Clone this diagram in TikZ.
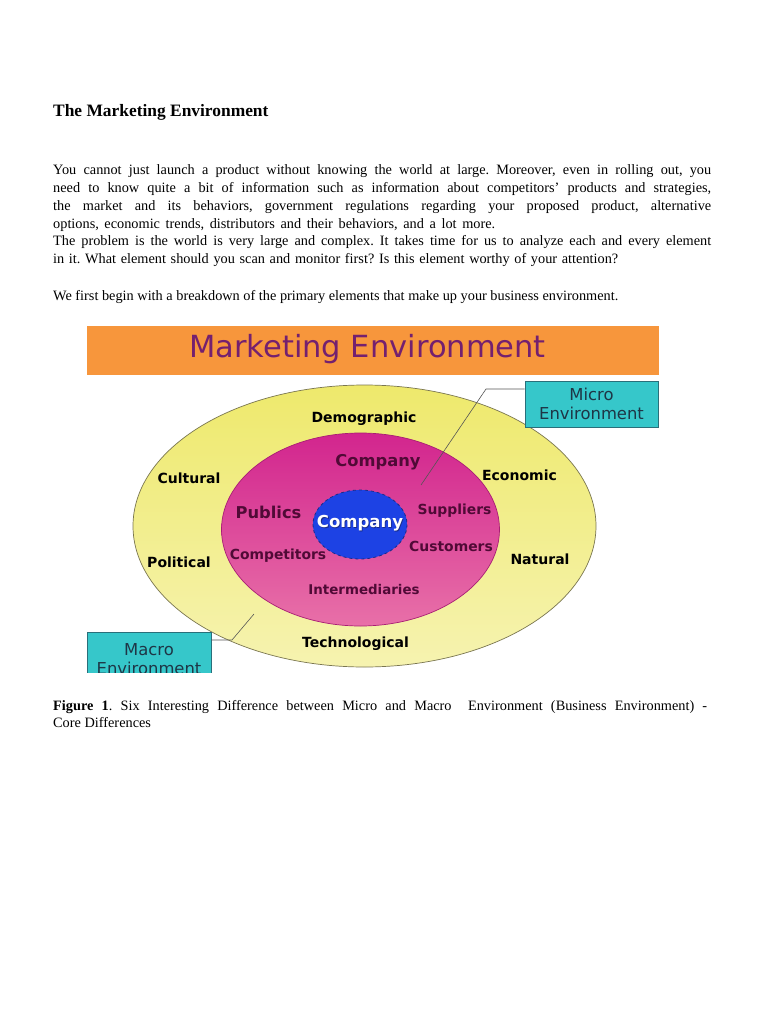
\documentclass[tikz,border=0pt]{standalone}
\usepackage{fontspec}
\setmainfont{Liberation Serif}
\newfontfamily\dia{DejaVu Sans}
\definecolor{bannerorange}{HTML}{F7963C}
\definecolor{bannertext}{HTML}{74206F}
\definecolor{yeltop}{HTML}{EEE96C}
\definecolor{yelbot}{HTML}{F6F3B0}
\definecolor{yelline}{HTML}{7A7650}
\definecolor{magtop}{HTML}{D2258E}
\definecolor{magbot}{HTML}{E870A8}
\definecolor{magline}{HTML}{A81E74}
\definecolor{coreblue}{HTML}{1D42E4}
\definecolor{coreline}{HTML}{1A2C8A}
\definecolor{tealbox}{HTML}{36C7CA}
\definecolor{tealline}{HTML}{2A6F7A}
\definecolor{boxtext}{HTML}{1E3646}
\definecolor{innertext}{HTML}{500A36}
\definecolor{leader}{HTML}{555555}
\begin{document}
\frenchspacing
\begin{tikzpicture}[x=1pt,y=-1pt,
  bodyline/.style={anchor=base west, inner sep=0pt, font=\fontsize{14.3}{16}\selectfont},
  outerlabel/.style={inner sep=0pt, font=\dia\bfseries\fontsize{14}{16}\selectfont, text=black},
  innerlabel/.style={inner sep=0pt, font=\dia\bfseries\fontsize{13.9}{16}\selectfont, text=innertext},
  biglabel/.style={inner sep=0pt, font=\dia\bfseries\fontsize{16.3}{18}\selectfont, text=innertext},
  envbox/.style={draw=tealline, fill=tealbox, line width=0.6pt, inner sep=0pt, align=center,
     font=\dia\fontsize{16.4}{19}\selectfont, text=boxtext},
  leaderline/.style={draw=leader, line width=0.6pt}
]
\useasboundingbox[fill=white] (0,0) rectangle (768,1024);

% Heading and body text
\node[anchor=base west, inner sep=0pt, font=\fontsize{17.4}{20}\selectfont\bfseries] (title) at (53,116.7) {The Marketing Environment};
\node[bodyline] (l1) at (53,175) {\makebox[658pt][s]{You cannot just launch a product without knowing the world at large. Moreover, even in rolling out, you}};
\node[bodyline] (l2) at (53,192.7) {\makebox[658pt][s]{need to know quite a bit of information such as information about competitors' products and strategies,}};
\node[bodyline] (l3) at (53,210.4) {\makebox[658pt][s]{the market and its behaviors, government regulations regarding your proposed product, alternative}};
\node[bodyline] (l4) at (53,228.1) {\makebox[442pt][s]{options, economic trends, distributors and their behaviors, and a lot more.}};
\node[bodyline] (l5) at (53,245.8) {\makebox[658pt][s]{The problem is the world is very large and complex. It takes time for us to analyze each and every element}};
\node[bodyline] (l6) at (53,263.5) {\makebox[565pt][s]{in it. What element should you scan and monitor first? Is this element worthy of your attention?}};
\node[bodyline] (l7) at (53,300) {We first begin with a breakdown of the primary elements that make up your business environment.};

% Diagram
\begin{scope}
\clip (80,320) rectangle (670,672);
\fill[bannerorange] (87,326) rectangle (659,375);
\node[inner sep=0pt, font=\dia\fontsize{30.5}{32}\selectfont, text=bannertext] (banner) at (367.5,349) {Marketing Environment};

\shade[top color=yeltop, bottom color=yelbot, draw=yelline, line width=0.7pt] (364.5,526) ellipse [x radius=231.5, y radius=141];
\shade[top color=magtop, bottom color=magbot, draw=magline, line width=0.7pt] (360.5,529.5) ellipse [x radius=139, y radius=96.5];
\filldraw[fill=coreblue, draw=coreline, line width=0.8pt, dashed] (360,524.5) ellipse [x radius=47, y radius=34.5];

\node[inner sep=0pt, font=\dia\bfseries\fontsize{16.5}{18}\selectfont, text=coreline] at (360.8,523.8) {Company};
\node[inner sep=0pt, font=\dia\bfseries\fontsize{16.5}{18}\selectfont, text=white] (core) at (360,523) {Company};

\node[outerlabel] (demo) at (364,419) {Demographic};
\node[outerlabel] (cult) at (189,478) {Cultural};
\node[outerlabel] (econ) at (519.5,475) {Economic};
\node[outerlabel] (poli) at (179,562) {Political};
\node[outerlabel] (natu) at (540,559) {Natural};
\node[outerlabel] (tech) at (355.5,644) {Technological};

\node[biglabel] (comp) at (378,462.5) {Company};
\node[biglabel] (publ) at (268.5,512.5) {Publics};
\node[innerlabel] (supp) at (454.5,511) {Suppliers};
\node[innerlabel] (cust) at (451,546) {Customers};
\node[innerlabel] (cmpt) at (278,555.5) {Competitors};
\node[innerlabel, font=\dia\bfseries\fontsize{13.4}{16}\selectfont] (inte) at (364,589) {Intermediaries};

\node[envbox, minimum width=133pt, minimum height=46pt] (micro) at (591.5,404) {Micro\\Environment};
\node[envbox, minimum width=124pt, minimum height=54pt] (macro) at (149,659) {Macro\\Environment};

\coordinate (mbend) at (486,389);
\coordinate (mtip) at (421,485);
\draw[leaderline] (micro.west |- mbend) -- (mbend) -- (mtip);
\coordinate (kbend) at (232,640);
\coordinate (ktip) at (254,614);
\draw[leaderline] (macro.east |- kbend) -- (kbend) -- (ktip);
\end{scope}

% Caption
\node[bodyline] (cap1) at (53,710) {\makebox[654pt][s]{\textbf{Figure 1}. Six Interesting Difference between Micro and Macro\ \ Environment (Business Environment) -}};
\node[bodyline] (cap2) at (53,727) {Core Differences};
\end{tikzpicture}
\end{document}
